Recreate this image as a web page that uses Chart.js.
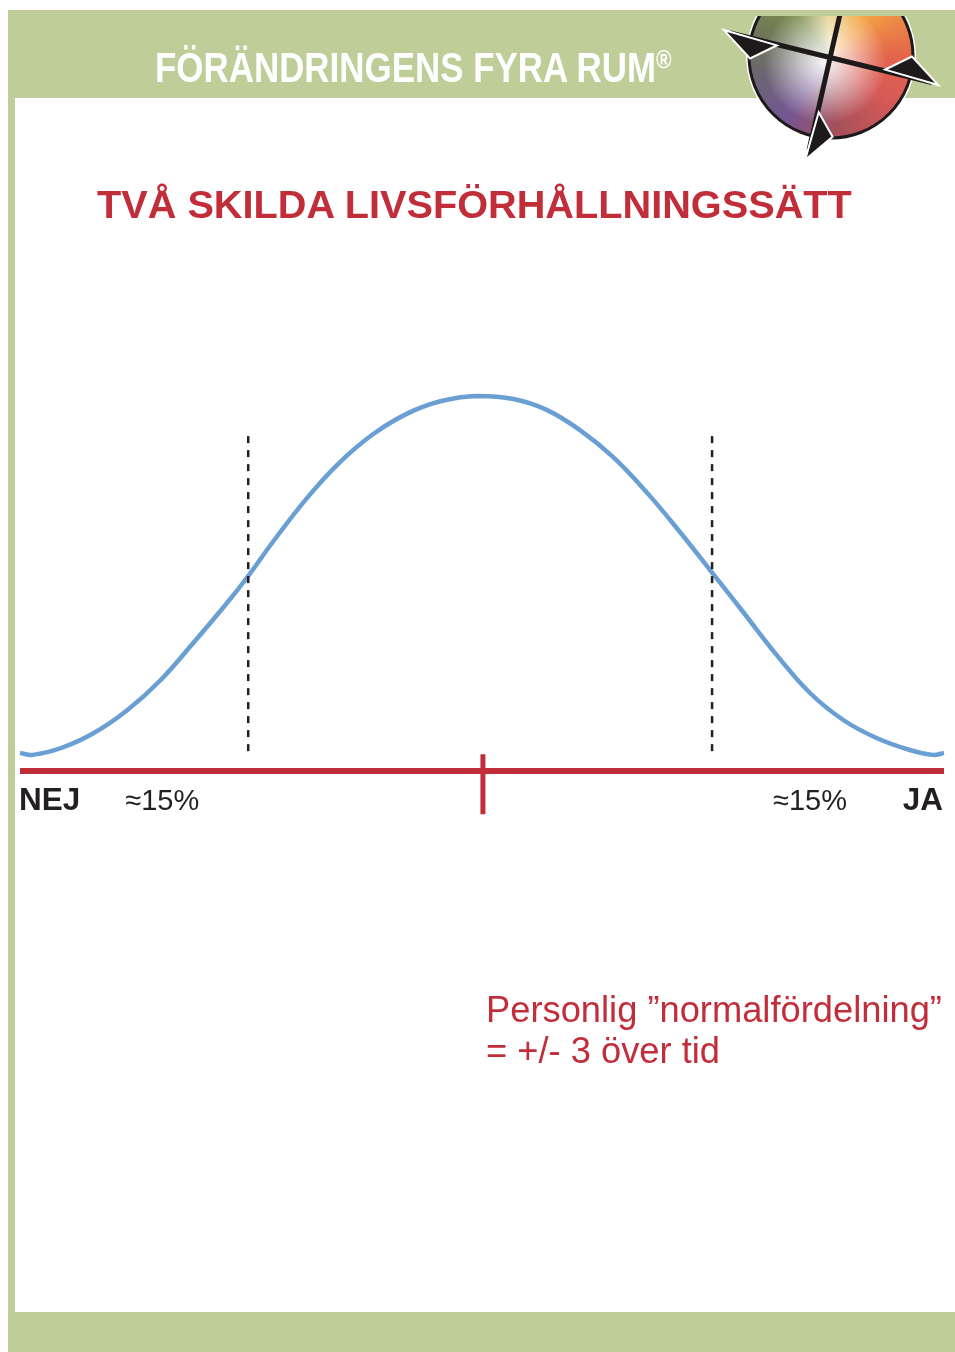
<!DOCTYPE html>
<html lang="sv">
<head>
<meta charset="utf-8">
<title>Förändringens fyra rum</title>
<script src="https://cdn.jsdelivr.net/npm/chart.js@4.4.1/dist/chart.umd.min.js"></script>
<style>
  html, body { margin: 0; padding: 0; }
  body {
    width: 955px; height: 1352px; position: relative; overflow: hidden;
    background: #fff; font-family: "Liberation Sans", Arial, Helvetica, sans-serif;
  }
  .green { position: absolute; background: #bfcd99; }
  #chart { position: absolute; left: 0; top: 0; }
  #logo { position: absolute; left: 700px; top: 0; }
  .header {
    position: absolute; left: 155px; top: 46px; color: #fff;
    font-weight: bold; font-size: 43px; line-height: 43px; white-space: nowrap;
    transform: scaleX(0.812); transform-origin: 0 0;
  }
  .header sup { font-size: 26px; vertical-align: 14px; line-height: 0; }
  .title {
    position: absolute; left: 97px; top: 185px; color: #c22d3a;
    font-weight: bold; font-size: 39.7px; line-height: 39.7px; white-space: nowrap;
  }
  .note {
    position: absolute; left: 486px; top: 989px; color: #c22d3a;
    font-size: 36.3px; line-height: 41px; white-space: nowrap;
  }
</style>
</head>
<body>
<div class="green" style="left:8px;top:10px;width:947px;height:88px"></div>
<div class="green" style="left:8px;top:10px;width:7px;height:1342px"></div>
<div class="green" style="left:8px;top:1312px;width:947px;height:40px"></div>

<canvas id="chart" width="955" height="1352"></canvas>
<canvas id="logo" width="255" height="170"></canvas>

<div class="header">FÖRÄNDRINGENS FYRA RUM<sup>®</sup></div>
<div class="title">TVÅ SKILDA LIVSFÖRHÅLLNINGSSÄTT</div>
<div class="note">Personlig ”normalfördelning”<br>= +/- 3 över tid</div>

<script>
// bell curve (x: 0 = NEJ .. 100 = JA, y: 0 = axis, 100 = peak)
const curveX = [0, 1.4, 4.3, 7.9, 11.6, 15.2, 18.7, 22.4, 24.7, 27.4, 31.1, 34.6, 38.2, 41.9, 45.5, 49.5,
                53.4, 57.0, 60.6, 64.2, 67.9, 71.4, 74.9, 78.2, 81.9, 85.5, 89.1, 92.7, 96.3, 98.8, 100];
const curveY = [4.8, 4.3, 6.0, 10.0, 16.2, 24.2, 34.0, 44.8, 52.0, 61.2, 72.9, 82.3, 89.8, 95.3, 98.6, 100,
                99.2, 96.3, 90.9, 83.7, 74.1, 63.8, 52.9, 42.6, 30.9, 20.8, 13.6, 8.8, 5.6, 4.3, 4.8];

// dashed limits of the ≈15% tails
const limitX = [24.7, 74.9];
const limitY = [89.3, 3.7];

// red base axis and its centre mark
const axisX = [0, 100];
const centreX = 50.1;
const centreY = [4.5, -11.5];

const axisLabels = ['NEJ', '≈15%', '≈15%', 'JA'];

const RED = '#c22d3a';
const BLUE = '#6a9fd4';
const INK = '#231f20';

const datasets = [];
limitX.forEach(x => {
    datasets.push({
        data: limitY.map(y => ({ x: x, y: y })),
        borderColor: INK, borderWidth: 2.5, borderDash: [7, 7],
        pointRadius: 0, clip: false
    });
});
datasets.push({
    data: axisX.map(x => ({ x: x, y: 0 })),
    borderColor: RED, borderWidth: 6, pointRadius: 0, clip: false
});
datasets.push({
    data: centreY.map(y => ({ x: centreX, y: y })),
    borderColor: RED, borderWidth: 5, pointRadius: 0, clip: false
});
datasets.push({
    data: curveX.map((x, i) => ({ x: x, y: curveY[i] })),
    borderColor: BLUE, borderWidth: 4.5, pointRadius: 0, clip: false,
    tension: 0.4
});

// text under the axis
const labelPlugin = {
    id: 'axisText',
    afterDatasetsDraw(chart) {
        const ctx = chart.ctx;
        const xs = chart.scales.x;
        const place = [
            { v: -0.1, align: 'left', font: 'bold 31.5px "Liberation Sans", Arial' },
            { v: 15.4, align: 'center', font: '29px "Liberation Sans", Arial' },
            { v: 85.5, align: 'center', font: '29px "Liberation Sans", Arial' },
            { v: 99.9, align: 'right', font: 'bold 31.5px "Liberation Sans", Arial' }
        ];
        const base = chart.scales.y.getPixelForValue(0) + 39;
        ctx.save();
        ctx.fillStyle = INK;
        ctx.textBaseline = 'alphabetic';
        axisLabels.forEach((t, i) => {
            ctx.font = place[i].font;
            ctx.textAlign = place[i].align;
            ctx.fillText(t, xs.getPixelForValue(place[i].v), base);
        });
        ctx.restore();
    }
};

new Chart(document.getElementById('chart'), {
    type: 'scatter',
    data: { datasets: datasets },
    options: {
        responsive: false,
        animation: false,
        showLine: true,
        layout: { padding: { left: 20, right: 11, top: 396, bottom: 536 } },
        scales: {
            x: { type: 'linear', min: 0, max: 100, display: false },
            y: { type: 'linear', min: -12, max: 100, display: false }
        },
        plugins: { legend: { display: false }, tooltip: { enabled: false } }
    },
    plugins: [labelPlugin]
});

// compass logo in the header
(function drawLogo() {
    const c = document.getElementById('logo');
    const g = c.getContext('2d');
    g.translate(-700, 0);
    g.save();
    g.beginPath();
    g.rect(700, 16, 255, 160);
    g.clip();

    const cx = 831, cy = 56, r = 82;
    g.beginPath();
    g.arc(cx, cy, r + 3, 0, Math.PI * 2);
    g.fillStyle = '#fff';
    g.fill();

    g.save();
    g.beginPath();
    g.arc(cx, cy, r, 0, Math.PI * 2);
    g.clip();
    const cg = g.createConicGradient(0, cx, cy);
    cg.addColorStop(0.00, '#e3644a');
    cg.addColorStop(0.10, '#d85a57');
    cg.addColorStop(0.24, '#a4505a');
    cg.addColorStop(0.35, '#735692');
    cg.addColorStop(0.46, '#6b6670');
    cg.addColorStop(0.55, '#6f7758');
    cg.addColorStop(0.64, '#7b8d4c');
    cg.addColorStop(0.74, '#e2cf84');
    cg.addColorStop(0.86, '#f3a645');
    cg.addColorStop(1.00, '#e3644a');
    g.fillStyle = cg;
    g.fillRect(cx - r, cy - r, 2 * r, 2 * r);
    const wg = g.createRadialGradient(cx - 6, cy + 6, 0, cx - 6, cy + 6, r);
    wg.addColorStop(0, 'rgba(255,255,255,0.95)');
    wg.addColorStop(0.3, 'rgba(255,255,255,0.6)');
    wg.addColorStop(0.75, 'rgba(255,255,255,0)');
    g.fillStyle = wg;
    g.fillRect(cx - r, cy - r, 2 * r, 2 * r);
    g.restore();

    g.beginPath();
    g.arc(cx, cy, r, 0, Math.PI * 2);
    g.lineWidth = 3;
    g.strokeStyle = '#1e1a1b';
    g.stroke();

    function arrowHead(tx, ty, fx, fy, len) {
        const dx = fx - tx, dy = fy - ty, d = Math.hypot(dx, dy);
        const ux = dx / d, uy = dy / d, nx = -uy, ny = ux;
        const k = len / 46;
        g.beginPath();
        g.moveTo(tx, ty);
        g.lineTo(tx + ux * 48 * k + nx * 2, ty + uy * 48 * k + ny * 2);
        g.lineTo(tx + ux * 28 * k + nx * 19, ty + uy * 28 * k + ny * 19);
        g.closePath();
        g.lineJoin = 'miter';
        g.lineWidth = 4;
        g.strokeStyle = '#fff';
        g.stroke();
        g.fillStyle = '#1e1a1b';
        g.fill();
    }

    g.lineCap = 'butt';
    g.strokeStyle = '#1e1a1b';
    g.lineWidth = 5;
    g.beginPath();
    g.moveTo(730, 33); g.lineTo(932, 82.5);
    g.moveTo(841, 10); g.lineTo(809, 150);
    g.stroke();
    arrowHead(727, 32, 935, 83, 47);
    arrowHead(935, 83, 727, 32, 47);
    arrowHead(807, 157, 840, 17, 42);
    g.restore();
})();
</script>
</body>
</html>
